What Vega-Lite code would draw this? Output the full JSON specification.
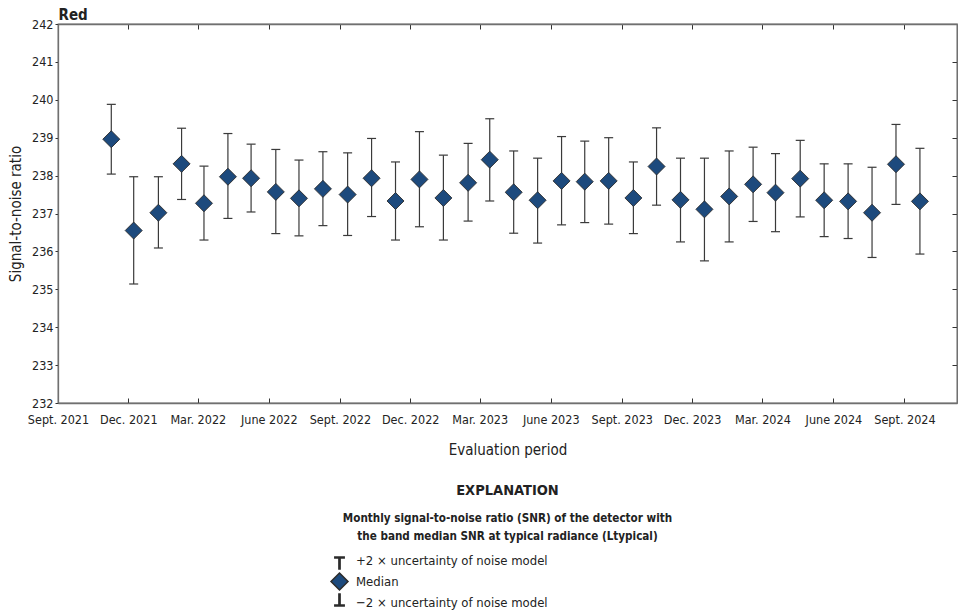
{
  "$schema": "https://vega.github.io/schema/vega-lite/v6.json",
  "width": 899,
  "height": 379,
  "padding": {"left": 8, "top": 7, "right": 0, "bottom": 0},
  "background": "white",
  "config": {
    "font": "DejaVu Sans Condensed, Roboto",
    "view": {"stroke": "#707070", "strokeWidth": 1.3},
    "axis": {
      "labelFont": "DejaVu Sans Condensed, Roboto",
      "titleFont": "DejaVu Sans Condensed, Roboto",
      "labelColor": "#222222",
      "titleColor": "#222222",
      "domainColor": "#707070",
      "domainWidth": 1.3,
      "tickColor": "#333333",
      "tickWidth": 1,
      "grid": false,
      "labelFontSize": 12.5,
      "titleFontSize": 15,
      "titleFontWeight": "normal"
    },
    "legend": {"labelFont": "DejaVu Sans Condensed, Roboto", "titleFont": "DejaVu Sans Condensed, Roboto"}
  },
  "title": {
    "text": "EXPLANATION",
    "subtitle": ["Monthly signal-to-noise ratio (SNR) of the detector with", "the band median SNR at typical radiance (Ltypical)"],
    "orient": "bottom",
    "anchor": "middle",
    "frame": "group",
    "font": "DejaVu Sans Condensed, Roboto",
    "subtitleFont": "DejaVu Sans Condensed, Roboto",
    "fontSize": 14.5,
    "fontWeight": "bold",
    "color": "#222222",
    "subtitleFontSize": 11.6,
    "subtitleFontWeight": "bold",
    "subtitleColor": "#222222",
    "subtitleLineHeight": 18.5,
    "subtitlePadding": 14,
    "offset": 0,
    "dy": -130
  },
  "data": {
    "values": [
      {"date": "2021-11-09", "median": 238.96, "upper": 239.88, "lower": 238.04},
      {"date": "2021-12-08", "median": 236.55, "upper": 237.97, "lower": 235.14},
      {"date": "2022-01-09", "median": 237.02, "upper": 237.97, "lower": 236.09},
      {"date": "2022-02-08", "median": 238.31, "upper": 239.25, "lower": 237.37},
      {"date": "2022-03-09", "median": 237.27, "upper": 238.25, "lower": 236.30},
      {"date": "2022-04-09", "median": 237.97, "upper": 239.11, "lower": 236.87},
      {"date": "2022-05-09", "median": 237.93, "upper": 238.83, "lower": 237.04},
      {"date": "2022-06-10", "median": 237.57, "upper": 238.69, "lower": 236.47},
      {"date": "2022-07-10", "median": 237.40, "upper": 238.41, "lower": 236.41},
      {"date": "2022-08-10", "median": 237.65, "upper": 238.63, "lower": 236.68},
      {"date": "2022-09-11", "median": 237.50, "upper": 238.60, "lower": 236.42},
      {"date": "2022-10-12", "median": 237.93, "upper": 238.98, "lower": 236.92},
      {"date": "2022-11-12", "median": 237.33, "upper": 238.36, "lower": 236.30},
      {"date": "2022-12-13", "median": 237.90, "upper": 239.16, "lower": 236.65},
      {"date": "2023-01-13", "median": 237.41, "upper": 238.54, "lower": 236.30},
      {"date": "2023-02-14", "median": 237.81, "upper": 238.85, "lower": 236.80},
      {"date": "2023-03-14", "median": 238.42, "upper": 239.50, "lower": 237.33},
      {"date": "2023-04-14", "median": 237.56, "upper": 238.65, "lower": 236.48},
      {"date": "2023-05-15", "median": 237.35, "upper": 238.46, "lower": 236.22},
      {"date": "2023-06-15", "median": 237.86, "upper": 239.03, "lower": 236.70},
      {"date": "2023-07-15", "median": 237.84, "upper": 238.91, "lower": 236.76},
      {"date": "2023-08-15", "median": 237.86, "upper": 239.00, "lower": 236.72},
      {"date": "2023-09-16", "median": 237.41, "upper": 238.36, "lower": 236.47},
      {"date": "2023-10-16", "median": 238.24, "upper": 239.26, "lower": 237.22},
      {"date": "2023-11-16", "median": 237.36, "upper": 238.46, "lower": 236.25},
      {"date": "2023-12-17", "median": 237.11, "upper": 238.46, "lower": 235.75},
      {"date": "2024-01-18", "median": 237.45, "upper": 238.65, "lower": 236.25},
      {"date": "2024-02-18", "median": 237.77, "upper": 238.75, "lower": 236.79},
      {"date": "2024-03-18", "median": 237.55, "upper": 238.58, "lower": 236.52},
      {"date": "2024-04-19", "median": 237.92, "upper": 238.93, "lower": 236.91},
      {"date": "2024-05-20", "median": 237.35, "upper": 238.31, "lower": 236.39},
      {"date": "2024-06-20", "median": 237.32, "upper": 238.31, "lower": 236.34},
      {"date": "2024-07-21", "median": 237.02, "upper": 238.22, "lower": 235.84},
      {"date": "2024-08-21", "median": 238.30, "upper": 239.35, "lower": 237.24},
      {"date": "2024-09-21", "median": 237.32, "upper": 238.72, "lower": 235.93}
    ]
  },
  "layer": [
    {
      "mark": {"type": "rule", "color": "#3a3a3a", "strokeWidth": 1.2},
      "encoding": {
        "x": {
          "field": "date",
          "type": "temporal",
          "scale": {
            "type": "utc",
            "domain": [
              {"year": 2021, "month": 9, "date": 1, "utc": true},
              {"year": 2024, "month": 11, "date": 8, "utc": true}
            ],
            "nice": false
          },
          "axis": {
            "orient": "bottom",
            "values": [
              {"year": 2021, "month": 9, "date": 1, "utc": true},
              {"year": 2021, "month": 12, "date": 1, "utc": true},
              {"year": 2022, "month": 3, "date": 1, "utc": true},
              {"year": 2022, "month": 6, "date": 1, "utc": true},
              {"year": 2022, "month": 9, "date": 1, "utc": true},
              {"year": 2022, "month": 12, "date": 1, "utc": true},
              {"year": 2023, "month": 3, "date": 1, "utc": true},
              {"year": 2023, "month": 6, "date": 1, "utc": true},
              {"year": 2023, "month": 9, "date": 1, "utc": true},
              {"year": 2023, "month": 12, "date": 1, "utc": true},
              {"year": 2024, "month": 3, "date": 1, "utc": true},
              {"year": 2024, "month": 6, "date": 1, "utc": true},
              {"year": 2024, "month": 9, "date": 1, "utc": true}
            ],
            "labelExpr": "['Jan.','Feb.','Mar.','Apr.','May','June','July','Aug.','Sept.','Oct.','Nov.','Dec.'][utcmonth(datum.value)] + ' ' + utcyear(datum.value)",
            "labelFlush": false,
            "labelOverlap": false,
            "tickSize": -5,
            "labelPadding": 15,
            "title": "Evaluation period",
            "titlePadding": 17
          }
        },
        "y": {
          "field": "lower",
          "type": "quantitative",
          "scale": {"domain": [232, 242], "nice": false, "zero": false},
          "axis": {
            "orient": "left",
            "values": [232, 233, 234, 235, 236, 237, 238, 239, 240, 241, 242],
            "tickSize": 3,
            "labelPadding": 2,
            "title": "Signal-to-noise ratio",
            "titlePadding": 8
          }
        },
        "y2": {"field": "upper"}
      }
    },
    {
      "transform": [{"fold": ["upper", "lower"], "as": ["part", "val"]}],
      "mark": {"type": "tick", "orient": "horizontal", "size": 9, "thickness": 1.2, "color": "#3a3a3a", "opacity": 1},
      "encoding": {
        "x": {"field": "date", "type": "temporal", "axis": null},
        "y": {"field": "val", "type": "quantitative", "axis": null}
      }
    },
    {
      "transform": [
        {"fold": ["upper", "median", "lower"], "as": ["part", "val"]},
        {"filter": "datum.part == 'median'"}
      ],
      "mark": {
        "type": "point",
        "filled": true,
        "stroke": "#2b2b2b",
        "strokeWidth": 0.9,
        "size": 289,
        "opacity": 1
      },
      "encoding": {
        "x": {
          "field": "date",
          "type": "temporal",
          "axis": {
            "orient": "top",
            "values": [
              {"year": 2021, "month": 12, "date": 1, "utc": true},
              {"year": 2022, "month": 3, "date": 1, "utc": true},
              {"year": 2022, "month": 6, "date": 1, "utc": true},
              {"year": 2022, "month": 9, "date": 1, "utc": true},
              {"year": 2022, "month": 12, "date": 1, "utc": true},
              {"year": 2023, "month": 3, "date": 1, "utc": true},
              {"year": 2023, "month": 6, "date": 1, "utc": true},
              {"year": 2023, "month": 9, "date": 1, "utc": true},
              {"year": 2023, "month": 12, "date": 1, "utc": true},
              {"year": 2024, "month": 3, "date": 1, "utc": true},
              {"year": 2024, "month": 6, "date": 1, "utc": true},
              {"year": 2024, "month": 9, "date": 1, "utc": true}
            ],
            "labels": false,
            "tickSize": -5,
            "title": "Red",
            "titleAnchor": "start",
            "titleAlign": "left",
            "titleFontWeight": "bold",
            "titleFontSize": 15,
            "titlePadding": 1
          }
        },
        "y": {
          "field": "val",
          "type": "quantitative",
          "axis": {
            "orient": "right",
            "values": [233, 234, 235, 236, 237, 238, 239, 240, 241],
            "labels": false,
            "tickSize": -5,
            "title": null
          }
        },
        "fill": {
          "field": "part",
          "type": "nominal",
          "scale": {
            "domain": ["upper", "median", "lower"],
            "range": ["#333333", "#1d4a7d", "#333333"]
          },
          "legend": {
            "orient": "none",
            "legendX": 272,
            "legendY": 527,
            "direction": "vertical",
            "padding": 0,
            "title": null,
            "labelFontSize": 13,
            "labelColor": "#222222",
            "labelLimit": 500,
            "labelOffset": 7,
            "rowPadding": -4.5,
            "symbolSize": 289,
            "symbolOpacity": 1,
            "labelExpr": "datum.label == 'upper' ? '+2 × uncertainty of noise model' : datum.label == 'median' ? 'Median' : '−2 × uncertainty of noise model'"
          }
        },
        "shape": {
          "field": "part",
          "type": "nominal",
          "scale": {
            "domain": ["upper", "median", "lower"],
            "range": [
              "M0,-1L0,-1Z M-0.55,-0.42H0.55V-0.28H-0.55Z M-0.07,-0.35H0.07V1H-0.07Z",
              "M0,-1L1,0L0,1L-1,0Z",
              "M0,1L0,1Z M-0.55,0.28H0.55V0.42H-0.55Z M-0.07,-1H0.07V0.35H-0.07Z"
            ]
          },
          "legend": {
            "orient": "none",
            "legendX": 272,
            "legendY": 527,
            "direction": "vertical",
            "padding": 0,
            "title": null,
            "labelFontSize": 13,
            "labelColor": "#222222",
            "labelLimit": 500,
            "labelOffset": 7,
            "rowPadding": -4.5,
            "symbolSize": 289,
            "symbolOpacity": 1,
            "labelExpr": "datum.label == 'upper' ? '+2 × uncertainty of noise model' : datum.label == 'median' ? 'Median' : '−2 × uncertainty of noise model'"
          }
        }
      }
    }
  ],
  "resolve": {"axis": {"x": "independent", "y": "independent"}}
}
